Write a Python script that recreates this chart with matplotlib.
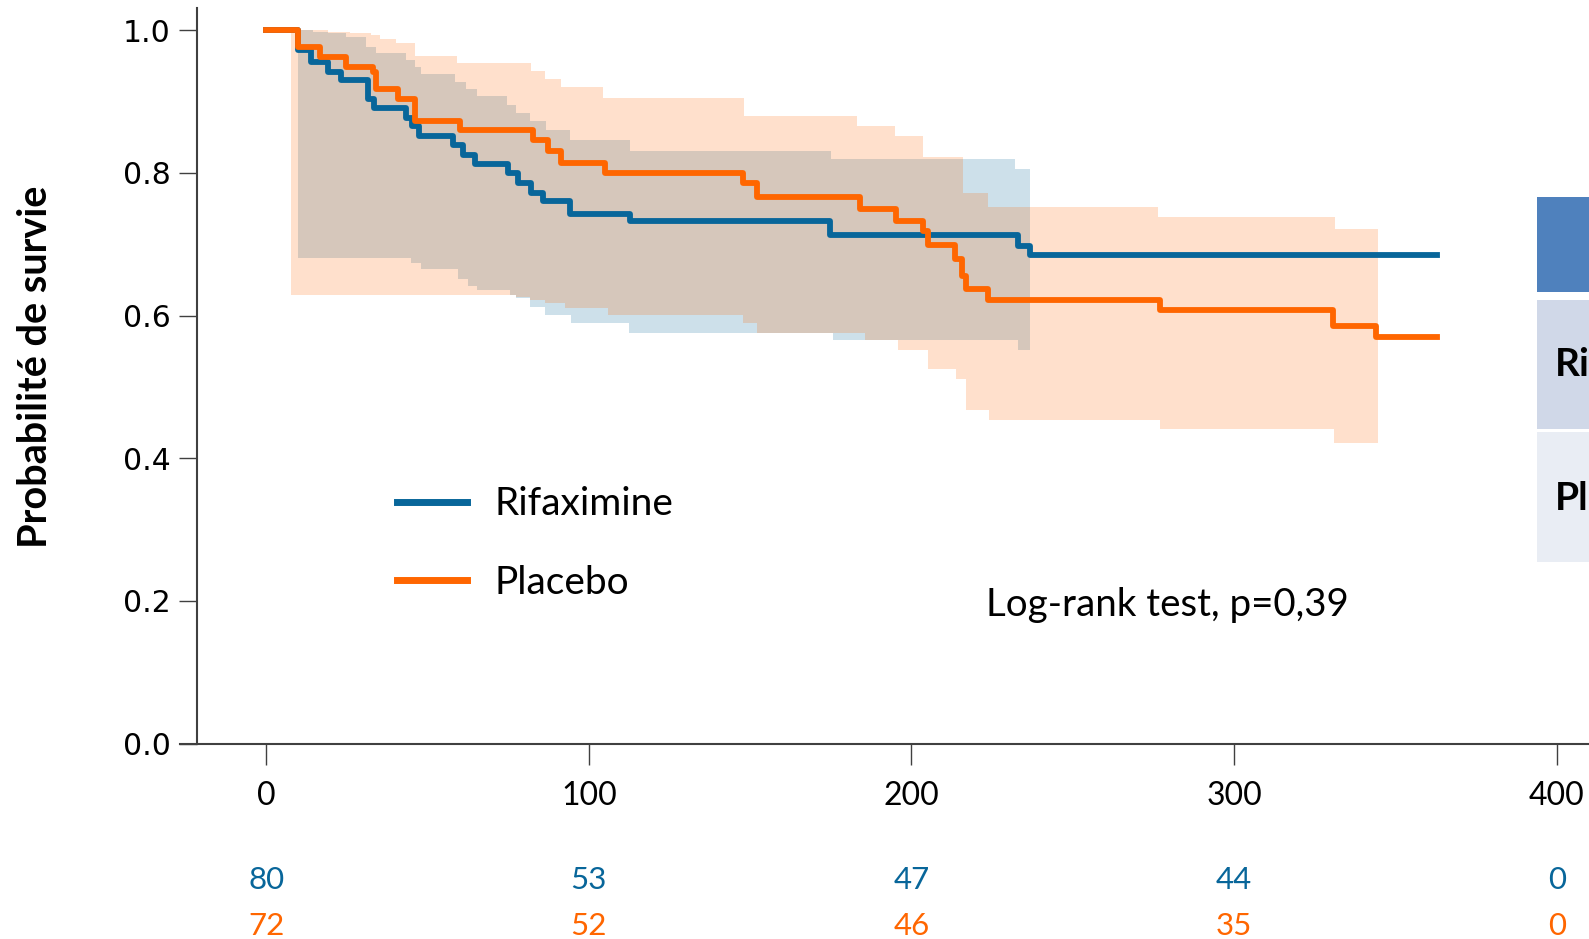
import numpy as np
import matplotlib.pyplot as plt
import matplotlib.transforms as mtransforms
from matplotlib.patches import Rectangle

BLUE = '#08669a'
ORANGE = '#ff6600'
CAL = ['Lato', 'DejaVu Sans']

# Kaplan-Meier curves (days, survival probability)
rifax_t = [0, 9.9, 14.0, 19.2, 23.3, 31.6, 33.3, 43.4, 45.2, 47.4, 57.9, 61.0, 64.6, 75.0,
           78.1, 82.2, 85.8, 94.1, 112.7, 174.7, 233.0, 236.7, 363]
rifax_s = [1.0, 0.972, 0.956, 0.942, 0.930, 0.903, 0.891, 0.877, 0.866, 0.852, 0.839, 0.825,
           0.812, 0.800, 0.786, 0.772, 0.760, 0.742, 0.732, 0.713, 0.698, 0.685, 0.685]

placebo_t = [0, 9.8, 16.6, 24.9, 33.1, 34.2, 40.9, 46.0, 60.0, 82.7, 87.4, 91.5, 104.9, 147.8,
             152.0, 184.0, 195.3, 203.6, 205.2, 213.4, 215.8, 217.0, 223.8, 277.1, 330.8, 344.0, 363]
placebo_s = [1.0, 0.977, 0.963, 0.949, 0.942, 0.917, 0.904, 0.873, 0.860, 0.846, 0.830, 0.814,
             0.800, 0.786, 0.766, 0.750, 0.733, 0.718, 0.699, 0.679, 0.655, 0.637, 0.622, 0.608,
             0.585, 0.570, 0.570]

# confidence bands
rifax_hi_t = [9.9, 14.5, 19.2, 24.9, 31.1, 34.2, 43.4, 46.0, 48.1, 58.4, 62.0, 65.2, 74.5, 77.5,
              81.7, 86.8, 94.1, 112.7, 175.0, 232.0, 236.7]
rifax_hi = [1.0, 0.998, 0.996, 0.990, 0.977, 0.968, 0.958, 0.948, 0.939, 0.928, 0.917, 0.908,
            0.895, 0.884, 0.873, 0.860, 0.846, 0.831, 0.819, 0.805, 0.805]
rifax_lo_t = [9.9, 45.0, 48.1, 59.5, 62.6, 65.2, 75.5, 77.5, 81.7, 86.3, 94.6, 112.5, 175.7, 233.0, 236.7]
rifax_lo = [0.680, 0.673, 0.665, 0.651, 0.642, 0.636, 0.629, 0.624, 0.612, 0.601, 0.590, 0.576,
            0.566, 0.552, 0.552]

placebo_hi_t = [7.8, 19.2, 25.9, 32.6, 35.2, 40.4, 46.0, 59.0, 82.2, 86.3, 91.5, 104.4, 148.0,
                183.0, 194.8, 203.6, 216.0, 223.8, 276.3, 331.4, 344.5]
placebo_hi = [1.0, 0.998, 0.996, 0.993, 0.987, 0.982, 0.964, 0.954, 0.943, 0.931, 0.920, 0.905,
              0.880, 0.866, 0.852, 0.822, 0.772, 0.752, 0.738, 0.722, 0.722]
placebo_lo_t = [7.8, 77.5, 81.7, 86.3, 92.5, 106.0, 147.8, 152.0, 185.5, 195.9, 205.2, 213.7,
                217.0, 224.0, 277.0, 331.0, 344.5]
placebo_lo = [0.629, 0.626, 0.622, 0.618, 0.610, 0.601, 0.589, 0.576, 0.566, 0.552, 0.525, 0.511,
              0.468, 0.454, 0.441, 0.421, 0.421]

# number at risk
risk_times = [0, 100, 200, 300, 400]
risk_rifax = [80, 53, 47, 44, 0]
risk_placebo = [72, 52, 46, 35, 0]

# table rows cut by the right edge of the slide
table_rows = ['Ri', 'Pl']


def band(t_hi, hi, t_lo, lo):
    # put upper and lower step functions on one time grid
    grid = np.union1d(t_hi, t_lo)
    up = np.array(hi)[np.clip(np.searchsorted(t_hi, grid, side='right') - 1, 0, None)]
    dn = np.array(lo)[np.clip(np.searchsorted(t_lo, grid, side='right') - 1, 0, None)]
    return grid, dn, up


W, H = 1589, 939
fig = plt.figure(figsize=(W / 100, H / 100), dpi=100)
ax = fig.add_axes([180 / W, (H - 743.5) / H, (W - 180) / W, (743.5 - 8.1) / H])

g, d, u = band(rifax_hi_t, rifax_hi, rifax_lo_t, rifax_lo)
ax.fill_between(g, d, u, step='post', color=BLUE, alpha=0.2, lw=0)
g, d, u = band(placebo_hi_t, placebo_hi, placebo_lo_t, placebo_lo)
ax.fill_between(g, d, u, step='post', color=ORANGE, alpha=0.2, lw=0)

l1, = ax.step(rifax_t, rifax_s, where='post', color=BLUE, lw=4.2, label='Rifaximine',
              solid_joinstyle='round')
l2, = ax.step(placebo_t, placebo_s, where='post', color=ORANGE, lw=4.2, label='Placebo',
              solid_joinstyle='round')

ax.set_xlim(-26.7, 410)
ax.set_ylim(0, 1.031)
ax.set_xticks([0, 100, 200, 300, 400])
ax.set_yticks([0.0, 0.2, 0.4, 0.6, 0.8, 1.0])
ax.set_yticklabels(['0.0', '0.2', '0.4', '0.6', '0.8', '1.0'])

for s in ['top', 'right']:
    ax.spines[s].set_visible(False)
ax.spines['left'].set_position(('data', -21.4))
for s in ['left', 'bottom']:
    ax.spines[s].set_color('#404040')
    ax.spines[s].set_linewidth(1.5)

ax.tick_params(axis='x', length=15, width=1.0, color='#404040', pad=12, labelsize=23)
ax.tick_params(axis='y', length=13, width=1.0, color='#404040', pad=6, labelsize=21.5)
for lab in ax.get_xticklabels():
    lab.set_family(CAL)

# number at risk rows
trans = mtransforms.blended_transform_factory(ax.transData, fig.transFigure)
for t, a, b in zip(risk_times, risk_rifax, risk_placebo):
    ax.text(t, 1 - 880 / H, str(a), transform=trans, ha='center', va='center',
            fontsize=22.5, color=BLUE, family=CAL, clip_on=False)
    ax.text(t, 1 - 926 / H, str(b), transform=trans, ha='center', va='center',
            fontsize=22.5, color=ORANGE, family=CAL, clip_on=False)

leg = ax.legend(handles=[l1, l2], loc='center left', bbox_to_anchor=(397 / W, 1 - 543.5 / H),
                bbox_transform=fig.transFigure, frameon=False, prop={'family': CAL, 'size': 28},
                handlelength=1.8, handletextpad=0.7, labelspacing=1.1, borderpad=0, borderaxespad=0)
for ln in leg.get_lines():
    ln.set_linewidth(5)

fig.text(986 / W, 1 - 605 / H, 'Log-rank test, p=0,39', fontsize=27.7, family=CAL,
         ha='left', va='center')
fig.text(35.5 / W, 1 - 367 / H, 'Probabilité de survie', rotation=90, fontsize=28.5,
         fontweight='bold', family=CAL, ha='center', va='center')

# partially visible table at the right edge
for y0, y1, c in [(196.5, 291.7, '#4f81bd'), (300, 429.5, '#d0d8e8'), (431.5, 562, '#e9edf4')]:
    fig.patches.append(Rectangle((1537 / W, 1 - y1 / H), 60 / W, (y1 - y0) / H,
                                 transform=fig.transFigure, color=c, lw=0))
for lab, yc in zip(table_rows, [364.6, 498]):
    fig.text(1555 / W, 1 - yc / H, lab, fontsize=28, fontweight='bold', family=CAL,
             ha='left', va='center')

fig.savefig('out.png', dpi=100)
